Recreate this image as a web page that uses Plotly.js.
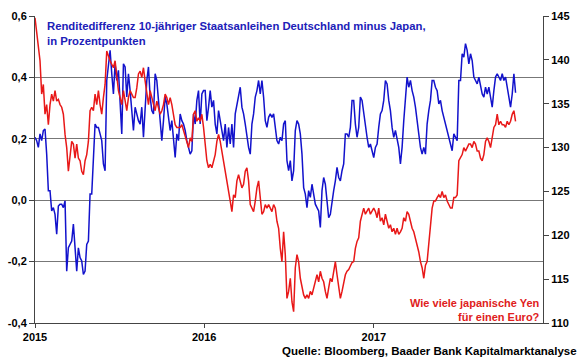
<!DOCTYPE html>
<html>
<head>
<meta charset="utf-8">
<script src="https://cdn.plot.ly/plotly-3.0.1.min.js"></script>
<style>html,body{margin:0;padding:0;background:#fff;}#chart{width:580px;height:358px;}</style>
</head>
<body>
<div id="chart"></div>
<script>
// Sampling of the series (roughly every 3.6 days starting 2015-01-01)
const startDate = Date.UTC(2015, 0, 1);
const stepDays = 3.6;

// Renditedifferenz 10J Deutschland minus Japan (left axis, percentage points)
const spread = [
  0.205,0.194,0.172,0.216,0.194,0.227,0.232,0.150,0.031,0.031,-0.035,-0.024,-0.046,-0.111,-0.019,-0.013,-0.013,-0.024,-0.002,-0.231,-0.155,-0.144,-0.133,-0.078,-0.144,-0.231,-0.155,-0.187,-0.198,-0.242,-0.231,-0.144,-0.133,0.020,0.020,0.139,0.248,0.237,0.237,0.216,0.194,0.118,0.096,0.390,0.444,0.488,0.412,
  0.346,0.444,0.390,0.423,0.336,0.216,0.444,0.434,0.336,0.412,0.357,0.281,0.227,0.303,0.281,0.259,0.248,0.303,0.205,0.292,0.390,0.434,0.336,0.292,0.281,0.412,0.390,0.325,0.248,0.194,0.259,0.336,0.314,0.259,0.227,0.259,0.205,0.139,0.216,0.194,0.281,0.259,0.248,0.227,0.194,0.172,0.150,0.161,
  0.281,0.248,0.325,0.357,0.248,0.346,0.357,0.357,0.259,0.303,0.357,0.303,0.325,0.248,0.216,0.292,0.259,0.237,0.194,0.248,0.172,0.237,0.183,0.248,0.172,0.281,0.314,0.346,0.368,0.303,0.281,0.248,0.205,0.172,0.150,0.248,0.281,0.336,0.357,0.390,0.346,0.390,0.336,0.259,0.237,0.270,0.281,0.270,
  0.281,0.237,0.194,0.183,0.205,0.194,0.248,0.259,0.129,0.096,0.129,0.063,0.096,0.227,0.259,0.248,0.216,0.150,0.041,0.020,-0.024,0.031,0.009,0.052,0.020,-0.013,-0.024,-0.035,-0.089,0.031,0.074,0.052,-0.002,-0.057,-0.046,-0.002,0.031,0.063,0.107,0.074,0.063,0.096,0.118,0.216,0.216,0.205,0.237,0.325,
  0.325,0.248,0.205,0.237,0.336,0.325,0.281,0.248,0.205,0.172,0.183,0.161,0.139,0.172,0.183,0.237,0.281,0.292,0.325,0.390,0.379,0.325,0.292,0.237,0.205,0.227,0.194,0.172,0.118,0.172,0.259,0.336,0.401,0.368,0.390,0.357,0.336,0.303,0.259,0.216,0.172,0.150,0.172,0.150,0.248,0.292,0.325,0.390,
  0.390,0.368,0.357,0.314,0.325,0.292,0.270,0.248,0.227,0.205,0.183,0.161,0.216,0.205,0.194,0.390,0.390,0.477,0.466,0.510,0.488,0.444,0.477,0.455,0.401,0.390,0.379,0.401,0.368,0.346,0.336,0.368,0.346,0.368,0.336,0.303,0.357,0.401,0.412,0.401,0.390,0.412,0.390,0.401,0.368,0.336,0.303,0.346,0.412,0.350
];

// Yen je Euro (right axis)
const eurjpy = [
  144.8,142.9,141.0,139.9,136.1,137.2,133.8,134.9,132.6,134.9,136.1,135.3,136.5,135.3,135.5,134.9,134.6,133.8,131.5,130.0,127.3,129.2,130.7,130.4,128.8,130.4,128.8,128.5,127.3,126.9,128.5,129.2,130.7,134.2,134.6,134.2,136.1,134.9,136.5,134.9,133.8,135.7,137.2,141.0,140.3,139.9,139.5,
  139.1,139.9,138.0,136.5,135.7,134.9,136.5,135.3,134.2,135.7,136.5,136.1,135.7,135.7,136.8,138.4,138.7,138.0,139.1,137.6,136.1,134.9,136.5,135.7,134.9,134.2,135.3,134.6,133.8,134.2,134.9,136.1,135.7,134.9,135.7,134.9,133.8,132.6,132.3,132.3,132.3,132.6,131.9,131.1,130.7,130.0,131.1,130.7,
  133.8,134.2,133.0,133.4,133.0,133.8,132.3,130.7,128.5,127.7,128.1,127.7,128.5,129.2,130.7,131.5,130.7,129.6,128.5,127.7,126.5,125.4,123.9,122.7,124.6,124.3,126.2,126.9,126.2,125.4,125.8,127.3,127.7,126.2,123.5,123.1,122.7,123.9,125.4,126.2,123.9,122.4,122.7,123.5,123.1,123.5,123.1,122.7,
  123.5,123.1,121.6,120.8,118.5,117.0,120.4,117.8,112.8,113.6,115.1,112.4,111.3,116.3,117.8,117.0,115.1,114.3,113.2,112.8,113.2,112.8,113.6,113.2,114.0,114.7,115.5,114.7,115.9,115.1,114.7,113.6,112.8,114.0,115.1,114.7,115.9,117.0,115.5,114.0,112.8,113.6,114.7,115.5,115.9,116.1,116.5,116.9,
  117.0,118.5,119.3,119.7,121.6,122.4,123.1,122.4,122.7,123.1,122.4,122.7,123.1,122.7,122.0,123.1,121.6,122.0,121.2,122.4,121.6,120.8,121.2,120.4,120.8,120.1,120.8,120.1,120.4,120.8,122.0,121.6,122.7,122.4,121.6,120.8,120.4,119.7,118.9,118.1,117.0,116.3,115.1,116.6,117.0,119.3,121.6,123.1,
  123.9,123.9,124.3,124.6,124.3,125.0,124.3,124.6,123.9,123.5,123.1,123.1,124.3,124.3,124.6,128.5,128.8,129.2,130.0,129.6,130.0,130.4,130.4,130.0,130.7,130.4,129.6,129.6,128.8,128.5,129.2,130.7,131.1,130.7,130.0,131.1,132.3,132.6,133.8,132.6,133.0,132.6,132.6,132.3,133.0,132.6,133.0,133.8,134.2,133.0
];

const leftTickVals = [0.6, 0.4, 0.2, 0.0, -0.2, -0.4];
const leftTickText = ['0,6', '0,4', '0,2', '0,0', '-0,2', '-0,4'];
const xTickVals = ['2015-01-01', '2016-01-01', '2017-01-01'];
const xTickText = ['2015', '2016', '2017'];

function datesFor(arr) {
  return arr.map((_, i) => new Date(startDate + i * stepDays * 86400000).toISOString());
}

const FONT = 'Liberation Sans, Arial, sans-serif';
const tickFont = {family: FONT, size: 11, color: '#000', weight: 'bold'};
const BLUE = '#1212CC';
const RED = '#E81818';

const traces = [
  {x: datesFor(eurjpy), y: eurjpy, yaxis: 'y2', type: 'scatter', mode: 'lines',
   line: {color: RED, width: 1.5}, hoverinfo: 'skip'},
  {x: datesFor(spread), y: spread, yaxis: 'y', type: 'scatter', mode: 'lines',
   line: {color: BLUE, width: 1.5}, hoverinfo: 'skip'}
];

const layout = {
  width: 580, height: 358,
  margin: {l: 35, r: 37, t: 16, b: 35},
  paper_bgcolor: '#fff', plot_bgcolor: '#fff',
  showlegend: false,
  xaxis: {
    type: 'date', range: ['2015-01-01', '2018-01-01'],
    tickvals: xTickVals, ticktext: xTickText,
    showgrid: false, zeroline: false,
    showline: true, linecolor: '#444', linewidth: 1,
    ticks: 'outside', ticklen: 4, tickcolor: '#444',
    tickfont: tickFont, fixedrange: true
  },
  yaxis: {
    range: [-0.4, 0.6],
    tickvals: leftTickVals, ticktext: leftTickText,
    showgrid: true, gridcolor: '#777', gridwidth: 1,
    zeroline: false,
    showline: true, linecolor: '#444', linewidth: 1,
    ticks: 'outside', ticklen: 5, tickcolor: '#444',
    tickfont: tickFont, fixedrange: true
  },
  yaxis2: {
    range: [110, 145], dtick: 5, tick0: 110,
    overlaying: 'y', side: 'right',
    showgrid: false, zeroline: false,
    showline: true, linecolor: '#444', linewidth: 1,
    ticks: 'outside', ticklen: 5, tickcolor: '#444',
    tickfont: tickFont, fixedrange: true
  },
  annotations: [
    {xref: 'paper', yref: 'paper', x: 0.0197, y: 0.992, xanchor: 'left', yanchor: 'top', align: 'left',
     showarrow: false,
     text: 'Renditedifferenz 10-jähriger Staatsanleihen Deutschland minus Japan,<br>in Prozentpunkten',
     font: {family: FONT, size: 11.3, color: '#2020B8', weight: 'bold'}},
    {xref: 'paper', yref: 'paper', x: 0.999, y: 0.092, xanchor: 'right', yanchor: 'top', align: 'right',
     showarrow: false,
     text: 'Wie viele japanische Yen<br>für einen Euro?',
     font: {family: FONT, size: 11, color: '#E02020', weight: 'bold'}},
    {xref: 'paper', yref: 'paper', x: 1.069, y: -0.09, xanchor: 'right', yanchor: 'middle', align: 'right',
     showarrow: false, borderpad: 0,
     text: 'Quelle: Bloomberg, Baader Bank Kapitalmarktanalyse',
     font: {family: FONT, size: 11.5, color: '#000', weight: 'bold'}}
  ]
};

Plotly.newPlot('chart', traces, layout, {displayModeBar: false, staticPlot: true});
</script>
</body>
</html>
